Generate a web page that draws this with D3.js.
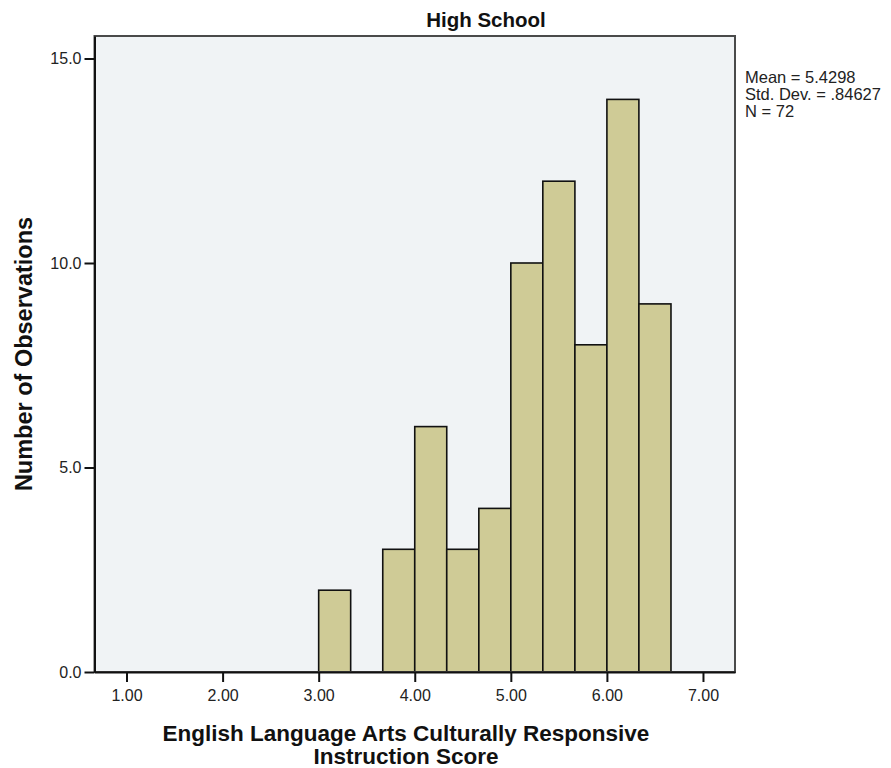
<!DOCTYPE html>
<html>
<head>
<meta charset="utf-8">
<script src="https://cdn.jsdelivr.net/npm/d3@7"></script>
<style>
  html, body { margin: 0; padding: 0; background: #ffffff; }
  svg { display: block; font-family: "Liberation Sans", Arial, sans-serif; }
</style>
</head>
<body>
<svg id="chart" width="891" height="768"></svg>
<script>
// Histogram of ELA culturally responsive instruction scores (bins of width 1/3)
const binLower = [3.000, 3.333, 3.667, 4.000, 4.333, 4.667, 5.000, 5.333, 5.667, 6.000, 6.333];
const binUpper = [3.333, 3.667, 4.000, 4.333, 4.667, 5.000, 5.333, 5.667, 6.000, 6.333, 6.667];
const counts   = [2, 0, 3, 6, 3, 4, 10, 12, 8, 14, 9];

const xTicks = [1, 2, 3, 4, 5, 6, 7];
const yTicks = [0, 5, 10, 15];
const statsLines = ["Mean = 5.4298", "Std. Dev. = .84627", "N = 72"];
const chartTitle = "High School";
const xTitle = ["English Language Arts Culturally Responsive", "Instruction Score"];
const yTitle = "Number of Observations";

const svg = d3.select("#chart");
const plot = { left: 94.5, right: 735, top: 36, bottom: 672 };

const x = d3.scaleLinear().domain([2 / 3, 7 + 1 / 3]).range([plot.left, plot.right]);
const y = d3.scaleLinear().domain([0, 15.55]).range([plot.bottom, plot.top]);

// plot background
svg.append("rect")
  .attr("x", plot.left).attr("y", plot.top)
  .attr("width", plot.right - plot.left).attr("height", plot.bottom - plot.top)
  .attr("fill", "#f0f3f5");

// bars
const bins = binLower.map((lo, i) => ({ lo, hi: binUpper[i], n: counts[i] })).filter(d => d.n > 0);
svg.append("g").selectAll("rect").data(bins).join("rect")
  .attr("x", d => x(d.lo))
  .attr("y", d => y(d.n))
  .attr("width", d => x(d.hi) - x(d.lo))
  .attr("height", d => y(0) - y(d.n))
  .attr("fill", "#cfcb96")
  .attr("stroke", "#111")
  .attr("stroke-width", 1.6);

// frame
svg.append("rect")
  .attr("x", plot.left).attr("y", plot.top)
  .attr("width", plot.right - plot.left).attr("height", plot.bottom - plot.top)
  .attr("fill", "none").attr("stroke", "#4a4a4a").attr("stroke-width", 2);

// axes
const xAxis = d3.axisBottom(x).tickValues(xTicks).tickFormat(d3.format(".2f"))
  .tickSize(10).tickSizeOuter(0).tickPadding(8);
const gx = svg.append("g").attr("transform", `translate(0,${plot.bottom})`).call(xAxis);
gx.select(".domain").attr("stroke", "#111").attr("stroke-width", 2);
gx.selectAll(".tick line").attr("stroke", "#111").attr("stroke-width", 2);
gx.selectAll(".tick text").attr("font-size", 16).attr("fill", "#222")
  .attr("font-family", "'Liberation Sans', Arial, sans-serif");

const yAxis = d3.axisLeft(y).tickValues(yTicks).tickFormat(d3.format(".1f"))
  .tickSize(10).tickSizeOuter(0).tickPadding(3);
const gy = svg.append("g").attr("transform", `translate(${plot.left},0)`).call(yAxis);
gy.select(".domain").attr("stroke", "#111").attr("stroke-width", 2);
gy.selectAll(".tick line").attr("stroke", "#111").attr("stroke-width", 2);
gy.selectAll(".tick text").attr("font-size", 16).attr("fill", "#222")
  .attr("font-family", "'Liberation Sans', Arial, sans-serif");

// title
svg.append("text")
  .attr("x", 486).attr("y", 27)
  .attr("text-anchor", "middle")
  .attr("font-weight", "bold").attr("font-size", 20.5).attr("fill", "#111")
  .text(chartTitle);

// x title
svg.append("text")
  .attr("x", 406).attr("y", 741)
  .attr("text-anchor", "middle")
  .attr("font-weight", "bold").attr("font-size", 22.5).attr("fill", "#111")
  .selectAll("tspan").data(xTitle).join("tspan")
  .attr("x", 406).attr("dy", (d, i) => i === 0 ? 0 : 23)
  .text(d => d);

// y title
svg.append("text")
  .attr("transform", "translate(32,354) rotate(-90)")
  .attr("text-anchor", "middle")
  .attr("font-weight", "bold").attr("font-size", 23.5).attr("fill", "#111")
  .text(yTitle);

// summary statistics
svg.append("g").selectAll("text").data(statsLines).join("text")
  .attr("x", 745).attr("y", (d, i) => 83 + i * 17)
  .attr("font-size", 16.5).attr("fill", "#222")
  .text(d => d);
</script>
</body>
</html>
